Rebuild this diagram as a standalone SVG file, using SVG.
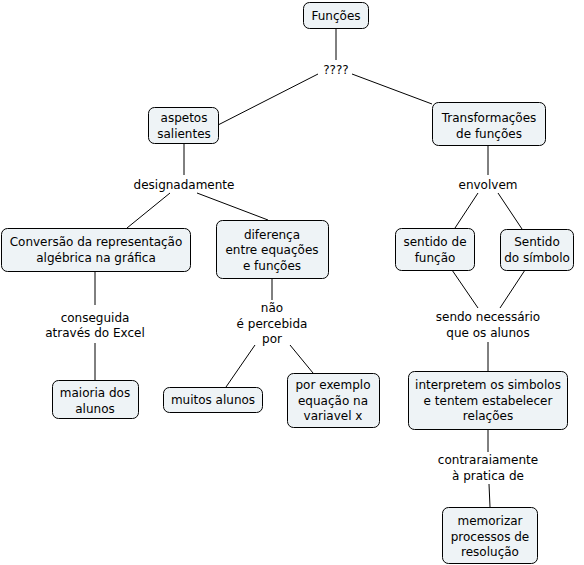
<svg xmlns="http://www.w3.org/2000/svg" width="584" height="565" viewBox="0 0 584 565">
<style>
.n rect{fill:#eef3f6;stroke:#000;stroke-width:1;}
text{font-family:"DejaVu Sans","Liberation Sans",sans-serif;font-size:12px;fill:#000;text-anchor:middle;}
#c line{stroke:#000;stroke-width:1;}
</style>
<rect width="584" height="565" fill="#fff"/>
<g id="c">
<line x1="336" y1="28" x2="336" y2="60"/>
<line x1="318" y1="74" x2="218" y2="125"/>
<line x1="352" y1="74" x2="432" y2="104"/>
<line x1="184" y1="143" x2="184" y2="175"/>
<line x1="488" y1="145" x2="488" y2="175"/>
<line x1="170" y1="193" x2="127" y2="228"/>
<line x1="197" y1="193" x2="268" y2="220"/>
<line x1="478" y1="193" x2="455" y2="228"/>
<line x1="498" y1="193" x2="522" y2="229"/>
<line x1="95" y1="272" x2="95" y2="305"/>
<line x1="95" y1="343" x2="95" y2="380"/>
<line x1="272" y1="278" x2="272" y2="300"/>
<line x1="255" y1="345" x2="226" y2="387"/>
<line x1="290" y1="345" x2="313" y2="373"/>
<line x1="452" y1="270" x2="478" y2="308"/>
<line x1="525" y1="270" x2="500" y2="308"/>
<line x1="488" y1="342" x2="488" y2="371"/>
<line x1="488" y1="430" x2="488" y2="452"/>
<line x1="489" y1="484" x2="490" y2="507"/>
</g>
<g id="lbl">
<text x="336" y="74">????</text>
<text x="184" y="189">designadamente</text>
<text x="488" y="189">envolvem</text>
<text x="95" y="322">conseguida</text>
<text x="95" y="337">através do Excel</text>
<text x="272" y="312">não</text>
<text x="272" y="328">é percebida</text>
<text x="272" y="343">por</text>
<text x="488" y="321">sendo necessário</text>
<text x="488" y="337">que os alunos</text>
<text x="488" y="464">contraraiamente</text>
<text x="488" y="480">à pratica de</text>
</g>
<g id="funcoes" class="n"><rect x="303.5" y="2.5" width="65" height="26" rx="6"/><text x="336" y="20">Funções</text></g>
<g id="aspetos" class="n"><rect x="148.5" y="107.5" width="70" height="36" rx="6"/><text x="184" y="122">aspetos</text><text x="184" y="138">salientes</text></g>
<g id="transf" class="n"><rect x="432.5" y="102.5" width="113" height="43" rx="6"/><text x="489" y="122">Transformações</text><text x="489" y="138">de funções</text></g>
<g id="conversao" class="n"><rect x="1.5" y="228.5" width="189" height="43" rx="6"/><text x="96" y="246">Conversão da representação</text><text x="96" y="262">algébrica na gráfica</text></g>
<g id="diferenca" class="n"><rect x="216.5" y="220.5" width="112" height="58" rx="6"/><text x="272" y="239">diferença</text><text x="272" y="254">entre equações</text><text x="272" y="270">e funções</text></g>
<g id="sfuncao" class="n"><rect x="395.5" y="228.5" width="79" height="42" rx="6"/><text x="435" y="246">sentido de</text><text x="435" y="262">função</text></g>
<g id="ssimbolo" class="n"><rect x="500.5" y="229.5" width="73" height="41" rx="6"/><text x="537" y="246">Sentido</text><text x="537" y="262">do símbolo</text></g>
<g id="maioria" class="n"><rect x="52.5" y="380.5" width="86" height="38" rx="6"/><text x="95" y="397">maioria dos</text><text x="95" y="413">alunos</text></g>
<g id="muitos" class="n"><rect x="163.5" y="387.5" width="99" height="25" rx="6"/><text x="213" y="404">muitos alunos</text></g>
<g id="exemplo" class="n"><rect x="287.5" y="373.5" width="92" height="54" rx="6"/><text x="333" y="389">por exemplo</text><text x="333" y="405">equação na</text><text x="333" y="420">variavel x</text></g>
<g id="interpretem" class="n"><rect x="408.5" y="371.5" width="159" height="58" rx="6"/><text x="488" y="389">interpretem os simbolos</text><text x="488" y="405">e tentem estabelecer</text><text x="488" y="420">relações</text></g>
<g id="memorizar" class="n"><rect x="442.5" y="507.5" width="95" height="56" rx="6"/><text x="490" y="525">memorizar</text><text x="490" y="541">processos de</text><text x="490" y="556">resolução</text></g>
</svg>
